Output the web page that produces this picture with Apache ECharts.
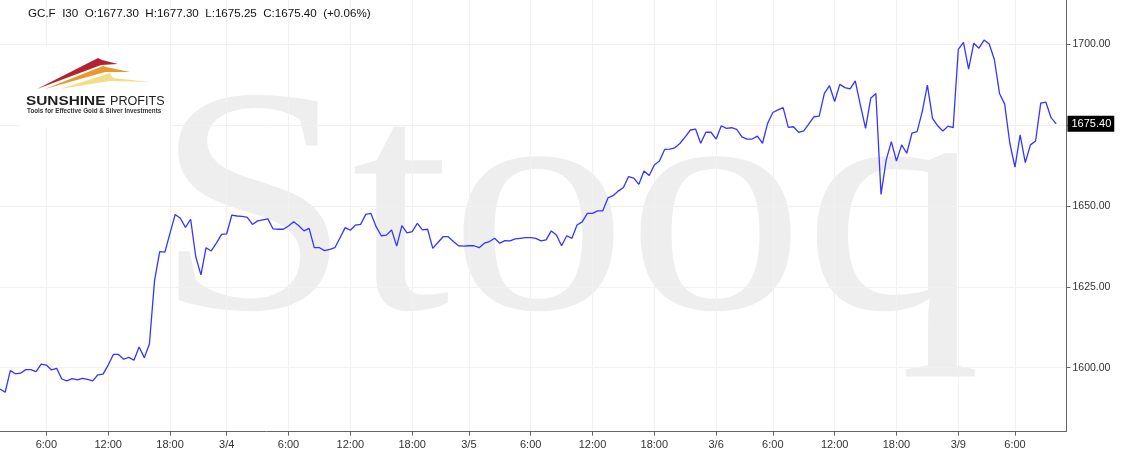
<!DOCTYPE html>
<html><head><meta charset="utf-8">
<script src="https://cdn.jsdelivr.net/npm/echarts@6/dist/echarts.min.js"></script>
<style>html,body{margin:0;padding:0;background:#fff}#c{width:1126px;height:462px}</style>
</head><body><div id="c"></div>
<script>
// 30-minute closes of GC.F
const closes = [
 1593.4,1592.4,1599.1,1598.1,1598.3,1599.4,1599.4,1598.8,1601.1,1600.8,
 1599.3,1599.8,1596.5,1595.9,1596.6,1596.2,1596.7,1596.4,1595.9,1597.8,
 1598.0,1600.8,1604.1,1604.1,1602.6,1603.2,1602.3,1606.4,1603.1,1607.3,
 1627.0,1635.9,1635.7,1641.6,1647.4,1646.2,1643.4,1645.9,1634.3,1628.7,
 1637.1,1636.1,1638.5,1641.2,1641.4,1647.2,1646.9,1646.8,1646.5,1644.3,
 1645.4,1645.7,1646.0,1642.9,1642.8,1642.8,1643.8,1645.1,1643.9,1642.3,
 1643.1,1637.1,1637.1,1636.2,1636.6,1637.1,1640.2,1643.3,1642.5,1644.1,
 1644.3,1647.4,1647.7,1643.6,1640.8,1641.0,1642.6,1637.6,1643.9,1641.7,
 1642.1,1644.6,1642.6,1642.8,1636.9,1638.7,1640.5,1640.5,1639.0,1637.7,
 1637.6,1637.7,1637.7,1637.1,1638.5,1639.0,1640.0,1638.5,1639.3,1639.2,
 1639.8,1640.0,1640.2,1640.2,1640.0,1639.2,1639.5,1642.3,1641.0,1637.7,
 1640.8,1640.0,1644.1,1645.1,1647.7,1647.7,1648.5,1648.5,1652.5,1653.2,
 1654.6,1655.7,1659.1,1658.6,1656.7,1660.8,1659.4,1662.7,1663.9,1667.5,
 1667.6,1668.0,1669.4,1671.4,1673.5,1673.8,1669.4,1672.8,1672.8,1670.7,
 1674.8,1674.0,1674.2,1673.7,1671.4,1670.7,1670.7,1671.6,1669.4,1675.6,
 1678.9,1679.7,1680.4,1674.3,1674.5,1672.8,1673.2,1675.4,1677.6,1677.8,
 1684.8,1687.2,1682.3,1687.6,1686.6,1686.2,1688.7,1681.2,1674.0,1683.3,
 1684.8,1653.6,1664.2,1669.9,1663.9,1668.9,1666.3,1672.5,1673.0,1679.2,
 1687.4,1677.1,1674.8,1673.2,1674.7,1674.2,1698.4,1700.6,1692.3,1700.3,
 1698.8,1701.3,1700.1,1695.3,1684.8,1681.5,1669.4,1662.0,1672.0,1663.4,
 1668.9,1670.1,1681.8,1682.1,1677.3,1675.4
];
const emptySlots = 2; // blank bars to the right of the last bar
const xTickIndex = [9,21,33,44,56,68,80,91,103,115,127,139,150,162,174,186,197];
const xTickLabels = ['6:00','12:00','18:00','3/4','6:00','12:00','18:00','3/5','6:00','12:00','18:00','3/6','6:00','12:00','18:00','3/9','6:00'];
const yTicks = [1600,1625,1650,1675,1700];
const yMin = 1580.2, yMax = 1713.7;
const lastPrice = 1675.40;
const headerText = 'GC.F  I30  O:1677.30  H:1677.30  L:1675.25  C:1675.40  (+0.06%)';

const categories = closes.map((_, i) => 'bar' + i);
for (let k = 0; k < emptySlots; k++) categories.push('pad' + k);
const labelAt = {};
xTickIndex.forEach((k, j) => { labelAt[k] = xTickLabels[j]; });
const isTick = (i) => labelAt[i] !== undefined;

const chart = echarts.init(document.getElementById('c'), null, {renderer: 'canvas'});
const FONT = '"Liberation Sans", Arial, sans-serif';
chart.setOption({
  animation: false,
  backgroundColor: '#fff',
  textStyle: {fontFamily: FONT},
  grid: {left: 0, right: 59.5, top: 0, bottom: 30.3, containLabel: false},
  xAxis: {
    type: 'category', data: categories, boundaryGap: false,
    axisLine: {lineStyle: {color: '#666', width: 1}},
    axisTick: {interval: (i) => isTick(i), length: 4, lineStyle: {color: '#666'}},
    axisLabel: {interval: (i) => isTick(i), formatter: (v, i) => labelAt[i] || '', color: '#333', fontSize: 11, margin: 8, fontFamily: FONT},
    splitLine: {show: true, interval: (i) => isTick(i), lineStyle: {color: '#f1f1f1', width: 1}}
  },
  yAxis: {
    type: 'value', position: 'right', min: yMin, max: yMax, scale: true,
    axisLine: {show: true, lineStyle: {color: '#666', width: 1}},
    axisTick: {show: true, length: 4, customValues: yTicks, lineStyle: {color: '#666'}},
    axisLabel: {customValues: yTicks, formatter: (v) => v.toFixed(2), color: '#333', fontSize: 10.5, margin: 6, fontFamily: FONT},
    splitLine: {show: true, lineStyle: {color: '#f1f1f1', width: 1}}
  },
  graphic: [
    {type: 'text', x: 154.5, y: 223.5, scaleX: 1.1, originX: 0, z: 0, silent: true,
     style: {text: 'Stooq', font: '322px "Liberation Serif", "DejaVu Serif", serif', fill: '#eeeeee', align: 'left', verticalAlign: 'middle'}},
    {type: 'rect', z: 10, shape: {x: 20, y: 47, width: 150, height: 80}, style: {fill: '#fff'}},
    {type: 'polygon', z: 11, shape: {points: [[60, 89], [110, 73], [113, 78], [150, 82], [110, 81]]}, style: {fill: '#f3dc8a'}},
    {type: 'polygon', z: 11, shape: {points: [[37, 89], [98, 58], [102, 60], [118, 64], [101, 65]]}, style: {fill: '#b52033'}},
    {type: 'polygon', z: 11, shape: {points: [[45, 89], [103, 66], [106, 67], [130, 72], [105, 72]]}, style: {fill: '#e69a2e'}},
    {type: 'text', z: 12, x: 26, y: 101.5, scaleX: 1.28, originX: 0,
     style: {text: 'SUNSHINE', font: 'bold 12px ' + FONT, fill: '#1e1e1e', verticalAlign: 'middle'}},
    {type: 'text', z: 12, x: 110, y: 101.5, scaleX: 1.05, originX: 0,
     style: {text: 'PROFITS', font: '12px ' + FONT, fill: '#1e1e1e', verticalAlign: 'middle'}},
    {type: 'text', z: 12, x: 27, y: 111.5,
     style: {text: 'Tools for Effective Gold & Silver Investments', font: 'bold 6.3px ' + FONT, fill: '#333', verticalAlign: 'middle'}},
    {type: 'text', z: 12, x: 28, y: 13.5,
     style: {text: headerText, font: '11.6px ' + FONT, fill: '#111', verticalAlign: 'middle'}}
  ],
  series: [{
    type: 'line', data: closes, showSymbol: false, symbol: 'none', z: 5,
    lineStyle: {color: '#3535ff', width: 1.3},
    markLine: {
      silent: true, symbol: 'none', animation: false,
      lineStyle: {color: 'rgba(0,0,0,0)', width: 0},
      data: [{yAxis: lastPrice}],
      label: {position: 'end', distance: 1, formatter: lastPrice.toFixed(2), color: '#fff', backgroundColor: '#000',
              padding: [3, 3, 2, 4], fontSize: 11, fontFamily: FONT}
    }
  }]
});
</script></body></html>
